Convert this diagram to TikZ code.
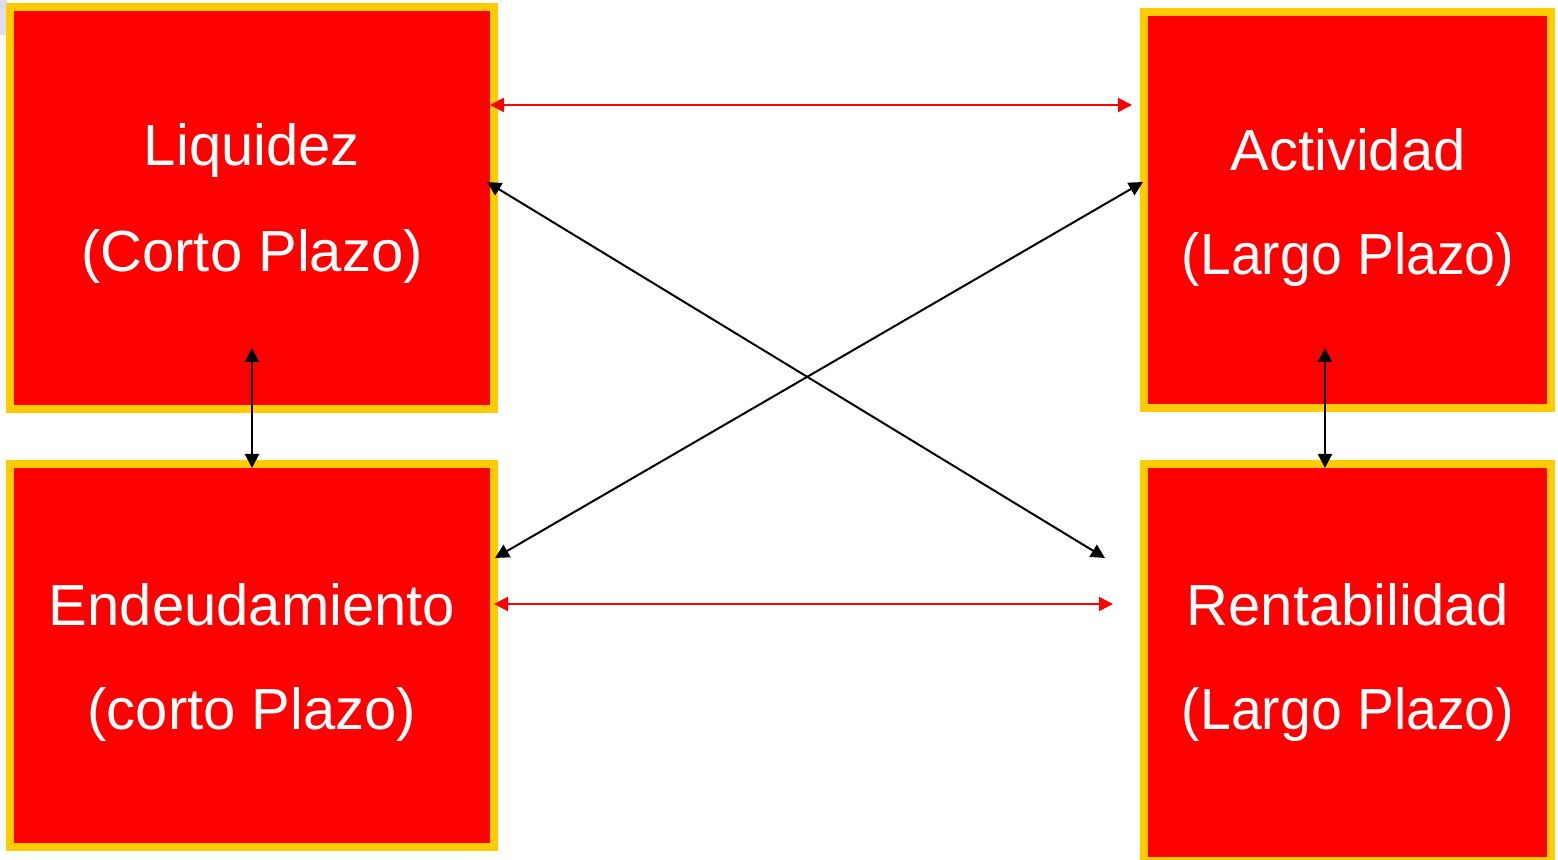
\documentclass[tikz,border=0pt]{standalone}
\usepackage{fontspec}
\setmainfont{Liberation Sans}
\usetikzlibrary{arrows.meta}
\definecolor{boxred}{HTML}{FF0000}
\definecolor{boxyellow}{HTML}{FFCC00}
\definecolor{lav}{HTML}{DDDDEE}
\begin{document}
\begin{tikzpicture}[x=0.5pt,y=-0.5pt,
  ratiobox/.style={draw=boxyellow,fill=boxred,line width=4pt},
  lbl/.style={text=white,anchor=base,inner sep=0pt,font=\fontsize{29}{35}\selectfont},
  redlink/.style={draw=boxred,line width=1pt,{Triangle[length=7pt,width=7pt]}-{Triangle[length=7pt,width=7pt]}},
  blacklink/.style={draw=black,line width=1pt,{Triangle[length=7pt,width=7pt]}-{Triangle[length=7pt,width=7pt]}}]
\useasboundingbox (0,0) rectangle (1558,860);
\fill[lav] (0,0) rectangle (7,35);
% boxes
\path[ratiobox] (10,7) rectangle (494,409);
\path[ratiobox] (10,464) rectangle (494,847);
\path[ratiobox] (1144,12) rectangle (1551,408);
\path[ratiobox] (1144,464) rectangle (1551,861);
% labels
\node[lbl] (liqa) at (252,166) {Liquidez};
\node[lbl] (liqb) at (252,272) {(Corto Plazo)};
\node[lbl] (acta) at (1348,171) {Actividad};
\node[lbl] (actb) at (1348,275) {\scalebox{0.955}[1]{(Largo Plazo)}};
\node[lbl] (enda) at (252,625) {Endeudamiento};
\node[lbl] (endb) at (252,729) {(corto Plazo)};
\node[lbl] (rena) at (1348,625) {Rentabilidad};
\node[lbl] (renb) at (1348,729) {\scalebox{0.955}[1]{(Largo Plazo)}};
% connector ends
\coordinate (t1) at (490,105);
\coordinate (t2) at (1132,105);
\coordinate (d1a) at (487,182);
\coordinate (d1b) at (1105,558);
\coordinate (d2a) at (1143,182);
\coordinate (d2b) at (495,558);
\coordinate (b1) at (494,604);
\coordinate (b2) at (1113,604);
\coordinate (vl1) at (252,348);
\coordinate (vl2) at (252,468);
\coordinate (vr1) at (1325,348);
\coordinate (vr2) at (1325,468);
% connectors
\draw[redlink] (t1) -- (t2);
\draw[redlink] (b1) -- (b2);
\draw[blacklink] (d1a) -- (d1b);
\draw[blacklink] (d2a) -- (d2b);
\draw[blacklink] (vl1) -- (vl2);
\draw[blacklink] (vr1) -- (vr2);
\end{tikzpicture}
\end{document}
